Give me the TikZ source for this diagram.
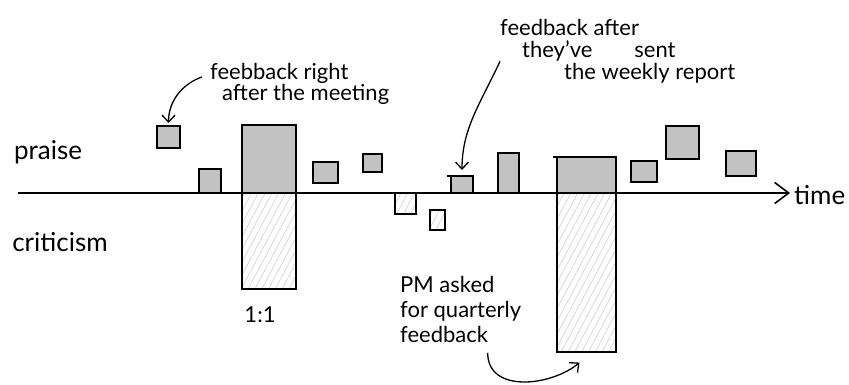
\documentclass[tikz,border=0pt]{standalone}
\usepackage{fontspec}
\setmainfont{Lato}
\usetikzlibrary{arrows.meta,fit,patterns.meta}
\tikzset{
  box/.style={draw,line width=1.5pt,inner sep=0pt,outer sep=0pt},
  praisebox/.style={box,fill=black!24},
  critbox/.style={box,pattern={Lines[angle=62,distance=6pt,line width=0.5pt]},pattern color=black!22},
  note/.style={align=left,inner sep=0pt,anchor=north west},
  remark/.style={-{Straight Barb[length=7pt,width=13pt]},line width=1.3pt},
  label/.style={inner sep=0pt,font=\fontsize{26}{30}\selectfont}
}
\begin{document}
\begin{tikzpicture}[x=1pt,y=1pt]
 \useasboundingbox (0,0) rectangle (849,-385);
 % praise above the line, criticism below
 \node[praisebox,fit={(157,-126) (180,-148)}] (b1) {};
 \node[praisebox,fit={(199,-169) (221,-193)}] (b2) {};
 \node[praisebox,fit={(242,-125) (296,-193)}] (meeting) {};
 \node[critbox,fit={(242,-193) (296,-289)}] (meetinglow) {};
 \node[praisebox,fit={(313,-162) (338,-183)}] (b3) {};
 \node[praisebox,fit={(363,-154) (382,-172)}] (b4) {};
 \node[critbox,fit={(395,-193) (416,-214)}] (c1) {};
 \node[critbox,fit={(430,-210) (445,-230)}] (c2) {};
 \node[praisebox,fit={(451,-176) (473,-193)}] (weekly) {};
 \draw[line width=1.5pt] (weekly.north east) -- ++(-26,0);
 \node[praisebox,fit={(498,-153) (519,-193)}] (b5) {};
 \node[praisebox,fit={(557,-157) (616,-193)}] (quarter) {};
 \node[critbox,fit={(557,-193) (616,-352)}] (quarterlow) {};
 \draw[line width=1.5pt] (quarter.north east) -- ++(-63,0);
 \node[praisebox,fit={(631,-161) (657,-182)}] (b6) {};
 \node[praisebox,fit={(666,-126) (699,-159)}] (b7) {};
 \node[praisebox,fit={(726,-151) (756,-176)}] (b8) {};
 % time axis
 \coordinate (start) at (18,-193);
 \coordinate (end) at (790,-193);
 \draw[line width=2pt,-{Straight Barb[length=14pt,width=21pt,line width=1.6pt]}] (start) -- (end);
 \node[label,anchor=west] (time) at (794,-195) {time};
 \node[label] (praise) at (48,-152) {praise};
 \node[label] (criticism) at (60,-242) {criticism};
 \node[label,font=\fontsize{22}{26}\selectfont] (ratio) at (260,-315) {1:1};
 % notes
 \node[note,font=\fontsize{22}{17}\selectfont] (note1) at (210,-63) {feebback right\\\hspace{12pt}after the meeting};
 \node[note,font=\fontsize{22}{22}\selectfont] (note2) at (500,-19) {feedback after\\\hspace{22pt}they've\hspace{42pt}sent\\\hspace{64pt}the weekly report};
 \node[note,font=\fontsize{22}{25}\selectfont] (note3) at (400,-276) {PM asked\\for quarterly\\feedback};
 \draw[remark,shorten >=3pt] ([xshift=-8pt,yshift=7pt]note1.west) to[out=200,in=90] (b1.north);
 \draw[remark,shorten >=6pt] ([yshift=22pt]note2.south west) to[out=245,in=90] (weekly.north);
 \draw[remark,shorten >=4pt] ([xshift=27pt,yshift=-10pt]note3.south) to[out=270,in=220,looseness=1.1] ([xshift=-4pt,yshift=-8pt]quarterlow.south);
\end{tikzpicture}
\end{document}
